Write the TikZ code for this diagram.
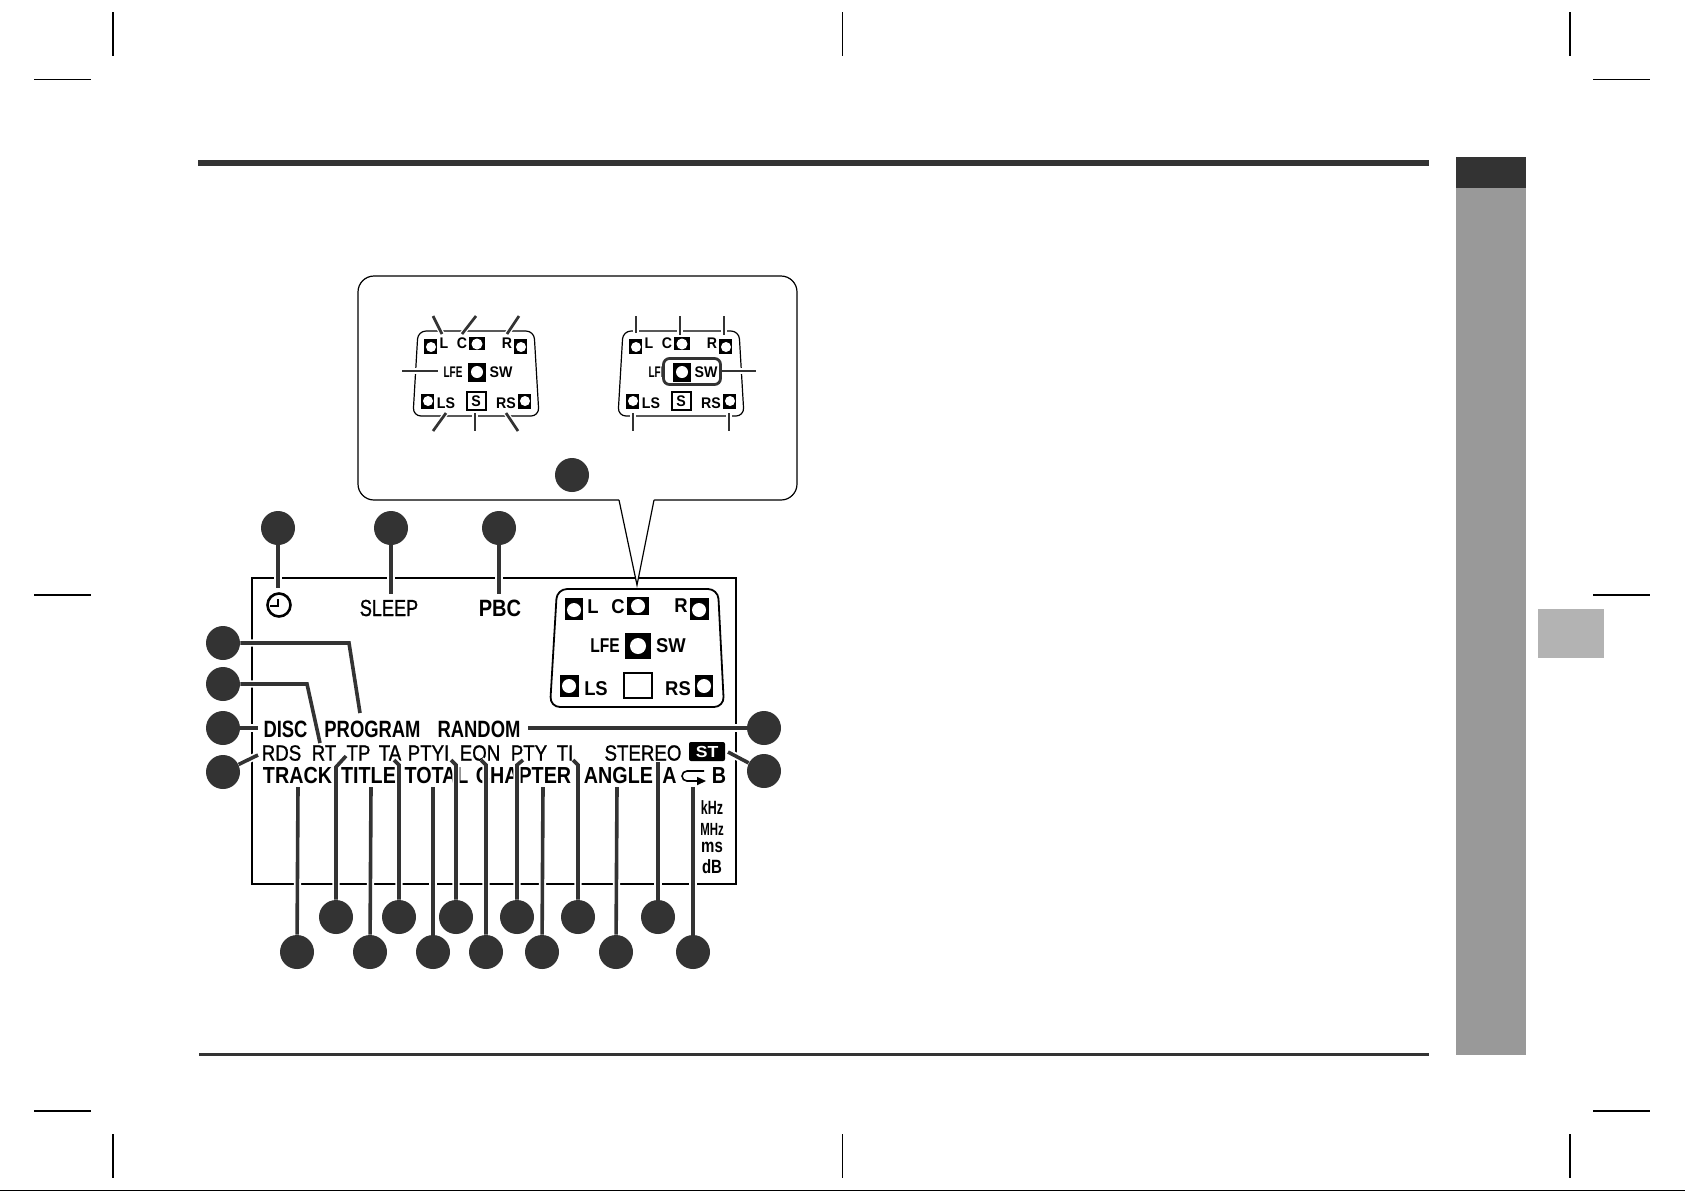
\documentclass[tikz,border=0pt]{standalone}
\usepackage{fontspec}
\usetikzlibrary{arrows.meta}
\newfontfamily\lcdwide[FakeStretch=0.92]{Liberation Sans}
\newfontfamily\lcdmid[FakeStretch=0.85]{Liberation Sans}
\newfontfamily\lcdnarrow[FakeStretch=0.78]{Liberation Sans}
\newfontfamily\lcdthin[FakeStretch=0.65]{Liberation Sans}
\newfontfamily\lcdext[FakeStretch=1.1]{Liberation Sans}
\newfontfamily\lcdrow[FakeStretch=0.85,FakeBold=1]{Liberation Sans}
\newfontfamily\lcdsleep[FakeStretch=0.78,FakeBold=1]{Liberation Sans}
\definecolor{ink}{HTML}{333333}
\definecolor{sidegrey}{HTML}{999999}
\definecolor{tabgrey}{HTML}{B3B3B3}
\tikzset{
  crop/.style={black, line width=0.65pt},
  dot/.style={circle, fill=ink, minimum size=17pt, inner sep=0pt},
  leader/.style={draw=ink, line width=1.8pt, preaction={draw=white, line width=3.6pt}},
  tick/.style={draw=ink, line width=1.35pt, preaction={draw=white, line width=2.6pt}},
  swbox/.style={draw=ink, line width=1.4pt, rounded corners=3pt},
  label/.style={inner sep=0pt, black},
  rowmain/.style={label, font=\lcdnarrow\bfseries\fontsize{11.8}{12}\selectfont},
  rowthin/.style={label, font=\lcdrow\fontsize{11}{12}\selectfont},
  rowtrack/.style={label, font=\lcdmid\bfseries\fontsize{11.6}{12}\selectfont},
  bigspk/.style={label, font=\lcdwide\bfseries\fontsize{10}{12}\selectfont},
  bignarrow/.style={label, font=\lcdnarrow\bfseries\fontsize{10}{12}\selectfont},
  smallspk/.style={label, font=\lcdwide\bfseries\fontsize{7.7}{9}\selectfont},
  smallnarrow/.style={label, font=\lcdthin\bfseries\fontsize{7.7}{9}\selectfont},
  unitlabel/.style={label, font=\lcdthin\bfseries\fontsize{9.6}{12}\selectfont},
  smallpanel/.pic={
    \draw[black, line width=0.6pt, rounded corners=4pt] (418,331) -- (534,331) -- (539,416) -- (413,416) -- cycle;
    \fill[black] (424,339) rectangle (437,354);
    \fill[white] (431,347) circle (5);
    \fill[black] (469,337) rectangle (485,350);
    \fill[white] (477,344) circle (5.5);
    \fill[black] (514,339) rectangle (527,354);
    \fill[white] (521,347) circle (5);
    \fill[black] (468,363) rectangle (486,382);
    \fill[white] (477,372) circle (6);
    \fill[black] (421,394) rectangle (434,409);
    \fill[white] (428,401) circle (5);
    \fill[black] (518,394) rectangle (531,409);
    \fill[white] (525,401) circle (5);
    \draw[black, line width=0.6pt] (467,392) rectangle (486,410);
    \node[smallspk] (-l) at (444,343) {L};
    \node[smallspk] (-c) at (462,343) {C};
    \node[smallspk] (-r) at (507,343) {R};
    \node[smallnarrow] (-lfe) at (453,372) {LFE};
    \node[smallspk] (-sw) at (501,372) {SW};
    \node[smallspk] (-ls) at (446,403) {LS};
    \node[smallspk] (-s) at (476,401) {S};
    \node[smallspk] (-rs) at (506,403) {RS};
  }
}

\begin{document}
\begin{tikzpicture}[x=0.5pt, y=-0.5pt]
	\useasboundingbox (0,0) rectangle (1685,1191);

	% Crop marks
	\draw[crop] (113,12) -- (113,56);
	\draw[crop] (842.5,12) -- (842.5,56);
	\draw[crop] (1570,12) -- (1570,56);
	\draw[crop] (34,79.5) -- (91,79.5);
	\draw[crop] (1593,79.5) -- (1650,79.5);
	\draw[crop] (34,595) -- (91,595);
	\draw[crop] (1593,595) -- (1650,595);
	\draw[crop] (34,1111) -- (91,1111);
	\draw[crop] (1593,1111) -- (1650,1111);
	\draw[crop] (113,1134) -- (113,1178);
	\draw[crop] (842.5,1134) -- (842.5,1178);
	\draw[crop] (1570,1134) -- (1570,1178);
	\draw[black, line width=0.5pt] (0,1190.5) -- (1685,1190.5);

	% Page rules and side bars
	\fill[ink] (198,160) rectangle (1429,166);
	\fill[ink] (199,1053) rectangle (1429,1056);
	\fill[ink] (1456,157) rectangle (1526,188);
	\fill[sidegrey] (1456,188) rectangle (1526,1055);
	\fill[tabgrey] (1538,609) rectangle (1604,658);

	% Display frame
	\draw[black, line width=1pt] (252,578) rectangle (736,884);

	% Display labels
	\node[label] (clock) at (279,605) {};
	\draw[black, line width=1.3pt] (279,605) circle (11.5);
	\draw[black, line width=1.1pt] (278,599) -- (278,606) -- (270,606);
	\node[label, font=\lcdsleep\fontsize{11.6}{12}\selectfont] (sleep) at (389,608) {SLEEP};
	\node[rowmain, font=\lcdmid\bfseries\fontsize{11.8}{12}\selectfont] (pbc) at (500,608) {PBC};
	\node[rowmain] (disc) at (285.5,729) {DISC};
	\node[rowmain] (program) at (372.5,729) {PROGRAM};
	\node[rowmain] (random) at (479,729) {RANDOM};
	\node[rowthin] (rds) at (281.5,753) {RDS};
	\node[rowthin] (rt) at (324,753) {RT};
	\node[rowthin] (tp) at (358.5,753) {TP};
	\node[rowthin] (ta) at (390,753) {TA};
	\node[rowthin] (ptyi) at (428.5,753) {PTYI};
	\node[rowthin] (eon) at (480,753) {EON};
	\node[rowthin] (pty) at (529,753) {PTY};
	\node[rowthin] (ti) at (565,753) {TI};
	\node[rowthin] (stereo) at (643,753) {STEREO};
	\node[fill=black, rounded corners=1pt, minimum width=18pt, minimum height=9.5pt, inner sep=0pt, text=white, font=\lcdext\bfseries\fontsize{8}{9}\selectfont] (st) at (707,751.5) {ST};
	\node[rowtrack] (track) at (297.5,775) {TRACK};
	\node[rowtrack] (title) at (368.5,775) {TITLE};
	\node[rowtrack] (total) at (436.5,775) {TOTAL};
	\node[rowtrack] (chapter) at (523.5,775) {CHAPTER};
	\node[rowtrack] (angle) at (618.5,775) {ANGLE};
	\node[rowtrack] (a) at (669.5,775) {A};
	\node[rowtrack] (b) at (719,775) {B};
	\draw[black, line width=0.8pt, -{Triangle[length=4.5pt, width=4pt]}] (704,771) -- (687,771) arc[start angle=270, end angle=90, radius=5] -- (706,781);
	\node[unitlabel] (khz) at (712,808) {kHz};
	\node[unitlabel, font=\lcdthin\bfseries\fontsize{8.8}{12}\selectfont] (mhz) at (712,829) {MHz};
	\node[unitlabel, font=\lcdnarrow\bfseries\fontsize{9.6}{12}\selectfont] (ms) at (712,847) {ms};
	\node[unitlabel, font=\lcdnarrow\bfseries\fontsize{9.6}{12}\selectfont] (db) at (712,867) {dB};

	% Speaker panel inside the display
	\draw[black, line width=0.9pt, rounded corners=5pt] (557,589) -- (718,589) -- (724,707) -- (550,707) -- cycle;
	\fill[black] (565,598) rectangle (583,620);
	\fill[white] (574,610) circle (7);
	\fill[black] (627,597) rectangle (649,615);
	\fill[white] (638,606) circle (7);
	\fill[black] (690,598) rectangle (709,620);
	\fill[white] (699,610) circle (7);
	\fill[black] (625,633) rectangle (651,659);
	\fill[white] (638,646) circle (8);
	\fill[black] (560,675) rectangle (579,697);
	\fill[white] (569,686) circle (7);
	\fill[black] (695,675) rectangle (713,697);
	\fill[white] (704,686) circle (7);
	\draw[black, line width=0.9pt] (624,673) rectangle (652,698);
	\node[bigspk] (mainl) at (593,607) {L};
	\node[bigspk] (mainc) at (618,607) {C};
	\node[bigspk] (mainr) at (681,606) {R};
	\node[bignarrow] (mainlfe) at (605,646) {LFE};
	\node[bigspk] (mainsw) at (671,646) {SW};
	\node[bigspk] (mainls) at (596,689) {LS};
	\node[bigspk] (mainrs) at (678,689) {RS};

	% Callout with the two panels
	\draw[black, line width=0.6pt, fill=white, rounded corners=8pt] (358,276) rectangle (797,500);
	\fill[white] (619.5,498) -- (654,498) -- (654,500) -- (637,585) -- (619,500) -- cycle;
	\draw[black, line width=0.6pt] (619,500) -- (637,585) -- (654,500);
	\pic (left) at (0,0) {smallpanel};
	\pic (right) at (205,0) {smallpanel};

	% Ends of the leaders
	\coordinate (clockend) at (278,588);
	\coordinate (sleepend) at (391,594);
	\coordinate (pbcend) at (499,594);
	\coordinate (progbend) at (349,643);
	\coordinate (progend) at (360,713);
	\coordinate (rtbend) at (307,684);
	\coordinate (rtend) at (320,743);
	\coordinate (discend) at (258,728);
	\coordinate (rdsend) at (258,755);
	\coordinate (randomend) at (528,728);
	\coordinate (stend) at (728,752);
	\coordinate (trackend) at (298,787);
	\coordinate (tpbend) at (336,767);
	\coordinate (tpend) at (346,756);
	\coordinate (titleend) at (371,787);
	\coordinate (tabend) at (399,765);
	\coordinate (taend) at (394,760);
	\coordinate (totalend) at (433,787);
	\coordinate (ptyibend) at (456,765);
	\coordinate (ptyiend) at (451,760);
	\coordinate (eonbend) at (486,765);
	\coordinate (eonend) at (481,760);
	\coordinate (ptybend) at (517,765);
	\coordinate (ptyend) at (523,760);
	\coordinate (chapterend) at (543,787);
	\coordinate (tibend) at (578,765);
	\coordinate (tiend) at (573,760);
	\coordinate (angleend) at (617,787);
	\coordinate (stereoend) at (658,762);
	\coordinate (abend) at (693,787);
	\coordinate (lfetick) at (438,371);
	\coordinate (lfefree) at (402,371);
	\coordinate (swtick) at (721,371);
	\coordinate (swfree) at (756,371);

	% Callout ticks
	\draw[tick] (433,316) -- (442,334);
	\draw[tick] (476,316) -- (462,334);
	\draw[tick] (519,316) -- (507,334);
	\draw[tick] (lfefree) -- (lfetick);
	\draw[tick] (446,413) -- (433,431);
	\draw[tick] (475,413) -- (475,431);
	\draw[tick] (506,413) -- (518,431);
	\draw[tick] (636,316) -- (636,333);
	\draw[tick] (680,316) -- (680,335);
	\draw[tick] (724,316) -- (724,335);
	\draw[tick] (swtick) -- (swfree);
	\draw[tick] (633,413) -- (633,431);
	\draw[tick] (729,413) -- (729,431);
	\fill[white] (664,360) rectangle (672,383);
	\draw[swbox] (663.5,358.5) rectangle (720.5,384.5);

	% Numbered dots
	\node[dot] (dotclock) at (278,528) {};
	\node[dot] (dotsleep) at (391,528) {};
	\node[dot] (dotpbc) at (499,528) {};
	\node[dot] (dotpanel) at (572,475) {};
	\node[dot] (dotprog) at (223,643) {};
	\node[dot] (dotrt) at (223,684) {};
	\node[dot] (dotdisc) at (223,728) {};
	\node[dot] (dotrds) at (223,772) {};
	\node[dot] (dotrandom) at (764,728) {};
	\node[dot] (dotst) at (764,771) {};
	\node[dot] (dottrack) at (297,952) {};
	\node[dot] (dottitle) at (370,952) {};
	\node[dot] (dottotal) at (433,952) {};
	\node[dot] (doteon) at (486,952) {};
	\node[dot] (dotchapter) at (542,952) {};
	\node[dot] (dotangle) at (616,952) {};
	\node[dot] (dotab) at (693,952) {};
	\node[dot] (dottp) at (336,917) {};
	\node[dot] (dotta) at (399,917) {};
	\node[dot] (dotptyi) at (456,917) {};
	\node[dot] (dotpty) at (517,917) {};
	\node[dot] (dotti) at (578,917) {};
	\node[dot] (dotstereo) at (658,917) {};

	% Leaders
	\draw[leader] (dotclock) -- (clockend);
	\draw[leader] (dotsleep) -- (sleepend);
	\draw[leader] (dotpbc) -- (pbcend);
	\draw[leader] (dotprog) -- (progbend) -- (progend);
	\draw[leader] (dotrt) -- (rtbend) -- (rtend);
	\draw[leader] (dotdisc) -- (discend);
	\draw[leader] (dotrds) -- (rdsend);
	\draw[leader] (dotrandom) -- (randomend);
	\draw[leader] (dotst) -- (stend);
	\draw[leader] (dottrack) -- (trackend);
	\draw[leader] (dottp) -- (tpbend) -- (tpend);
	\draw[leader] (dottitle) -- (titleend);
	\draw[leader] (dotta) -- (tabend) -- (taend);
	\draw[leader] (dottotal) -- (totalend);
	\draw[leader] (dotptyi) -- (ptyibend) -- (ptyiend);
	\draw[leader] (doteon) -- (eonbend) -- (eonend);
	\draw[leader] (dotpty) -- (ptybend) -- (ptyend);
	\draw[leader] (dotchapter) -- (chapterend);
	\draw[leader] (dotti) -- (tibend) -- (tiend);
	\draw[leader] (dotangle) -- (angleend);
	\draw[leader] (dotstereo) -- (stereoend);
	\draw[leader] (dotab) -- (abend);
\end{tikzpicture}
\end{document}
